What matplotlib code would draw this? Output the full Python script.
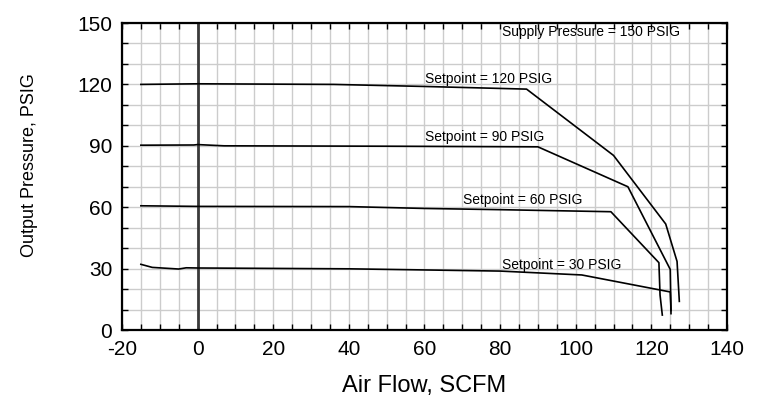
import numpy as np
import matplotlib.pyplot as plt
from matplotlib import font_manager
from matplotlib.ticker import MultipleLocator

# Regulator flow curves
flow_120 = [-15, 0, 36, 60, 87, 110, 123.8, 126.8, 127.4]
pres_120 = [120, 120.3, 120, 119, 117.7, 85.3, 51.8, 33.5, 14]

flow_90 = [-15, -1, 0, 7, 50, 90, 113.8, 125, 125.2]
pres_90 = [90.3, 90.4, 90.6, 90.0, 89.8, 89.5, 70, 29.6, 8]

flow_60 = [-15, -5, 0, 40, 60, 80, 109.3, 122, 122.3, 122.9]
pres_60 = [60.7, 60.5, 60.4, 60.3, 59.4, 58.8, 57.8, 32.9, 17.1, 7.3]

flow_30 = [-15, -12, -5, -3, 0, 40, 80, 101.6, 125, 125.2]
pres_30 = [32.1, 30.6, 29.8, 30.4, 30.3, 29.9, 28.8, 26.9, 18.6, 9.5]

curves = [(flow_120, pres_120), (flow_90, pres_90), (flow_60, pres_60), (flow_30, pres_30)]

labels = ['Setpoint = 120 PSIG', 'Setpoint = 90 PSIG',
          'Setpoint = 60 PSIG', 'Setpoint = 30 PSIG']
label_x = [60.2, 60.2, 70.3, 80.4]
label_y = [122.6, 94.1, 63.5, 31.6]

installed = {f.name for f in font_manager.fontManager.ttflist}
narrow = 'Liberation Sans Narrow' if 'Liberation Sans Narrow' in installed else 'Liberation Sans'
plt.rcParams['font.family'] = ['Liberation Sans', 'DejaVu Sans']
plt.rcParams['axes.unicode_minus'] = False

fig = plt.figure(figsize=(7.59, 4.03), dpi=100)
ax = fig.add_axes([0.1607, 0.1811, 0.7971, 0.7618])

for x, y in curves:
    ax.plot(x, y, color='black', linewidth=1.2, zorder=3)

ax.axvline(0, color='#3a3a3a', linewidth=2.0, zorder=2)

for text, tx, ty in zip(labels, label_x, label_y):
    ax.text(tx, ty, text, fontsize=10, va='center', ha='left', zorder=4)
ax.text(80.4, 145.6, 'Supply Pressure = 150 PSIG', fontsize=10, va='center', ha='left')

ax.set_xlim(-20, 140)
ax.set_ylim(0, 150)
ax.xaxis.set_major_locator(MultipleLocator(20))
ax.xaxis.set_minor_locator(MultipleLocator(5))
ax.yaxis.set_major_locator(MultipleLocator(30))
ax.yaxis.set_minor_locator(MultipleLocator(10))

ax.grid(True, which='both', color='#cccccc', linewidth=1.0, zorder=0)
ax.set_axisbelow(True)
ax.tick_params(which='both', direction='in', top=True, right=True,
               length=4, width=1, color='black')
ax.tick_params(which='major', labelsize=15, pad=7)
for s in ax.spines.values():
    s.set_linewidth(1.6)

ax.set_xlabel('Air Flow, SCFM', fontsize=17)
ax.xaxis.set_label_coords(0.5, -0.145)
ax.set_ylabel('Output Pressure, PSIG', fontsize=13 if narrow == 'Liberation Sans' else 15,
              family=[narrow, 'DejaVu Sans'])
ax.yaxis.set_label_coords(-0.139, 0.537)

plt.savefig('out.png', dpi=100)
